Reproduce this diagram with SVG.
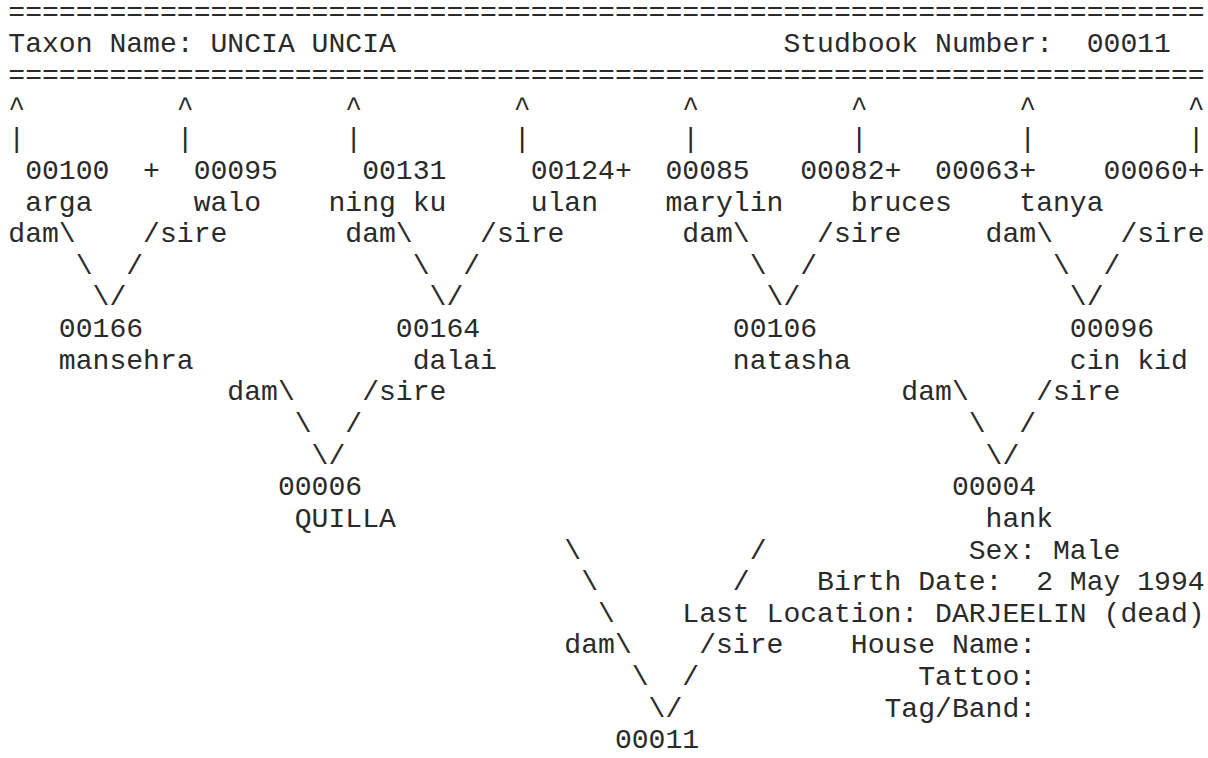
<svg xmlns="http://www.w3.org/2000/svg" width="1208" height="758" viewBox="0 0 1208 758" xml:space="preserve">
<style>
text { font-family: "Liberation Mono", "Courier New", monospace; font-size: 28.08px; fill: #2a2a2a; white-space: pre; }
</style>
<rect width="1208" height="758" fill="#fff"/>
<g id="header">
<text x="8.3" y="20.8">=======================================================================</text>
<text x="8.3" y="52.43">Taxon Name: UNCIA UNCIA</text>
<text x="783.4" y="52.43">Studbook Number:  00011</text>
<text x="8.3" y="84.06">=======================================================================</text>
</g>
<g id="connectors">
<text x="8.3" y="115.69">^         ^         ^         ^         ^         ^         ^         ^</text>
<text x="8.3" y="147.32">|         |         |         |         |         |         |         |</text>
<text x="8.3" y="242.21">dam\</text>
<text x="143.1" y="242.21">/sire</text>
<text x="345.3" y="242.21">dam\</text>
<text x="480.1" y="242.21">/sire</text>
<text x="682.3" y="242.21">dam\</text>
<text x="817.1" y="242.21">/sire</text>
<text x="985.6" y="242.21">dam\</text>
<text x="1120.4" y="242.21">/sire</text>
<text x="75.7" y="273.84">\  /</text>
<text x="412.7" y="273.84">\  /</text>
<text x="749.7" y="273.84">\  /</text>
<text x="1053" y="273.84">\  /</text>
<text x="92.55" y="305.47">\/</text>
<text x="429.55" y="305.47">\/</text>
<text x="766.55" y="305.47">\/</text>
<text x="1069.85" y="305.47">\/</text>
<text x="227.35" y="400.36">dam\</text>
<text x="362.15" y="400.36">/sire</text>
<text x="901.35" y="400.36">dam\</text>
<text x="1036.15" y="400.36">/sire</text>
<text x="294.75" y="431.99">\  /</text>
<text x="968.75" y="431.99">\  /</text>
<text x="311.6" y="463.62">\/</text>
<text x="985.6" y="463.62">\/</text>
<text x="564.35" y="558.51">\          /</text>
<text x="581.2" y="590.14">\        /</text>
<text x="598.05" y="621.77">\</text>
<text x="564.35" y="653.4">dam\</text>
<text x="699.15" y="653.4">/sire</text>
<text x="631.75" y="685.03">\  /</text>
<text x="648.6" y="716.66">\/</text>
</g>
<g id="node-00100">
<text x="25.15" y="178.95">00100</text>
<text x="143.1" y="178.95">+</text>
<text x="25.15" y="210.58">arga</text>
</g>
<g id="node-00095">
<text x="193.65" y="178.95">00095</text>
<text x="193.65" y="210.58">walo</text>
</g>
<g id="node-00131">
<text x="362.15" y="178.95">00131</text>
<text x="328.45" y="210.58">ning ku</text>
</g>
<g id="node-00124">
<text x="530.65" y="178.95">00124+</text>
<text x="530.65" y="210.58">ulan</text>
</g>
<g id="node-00085">
<text x="665.45" y="178.95">00085</text>
<text x="665.45" y="210.58">marylin</text>
</g>
<g id="node-00082">
<text x="800.25" y="178.95">00082+</text>
<text x="850.8" y="210.58">bruces</text>
</g>
<g id="node-00063">
<text x="935.05" y="178.95">00063+</text>
<text x="1019.3" y="210.58">tanya</text>
</g>
<g id="node-00060">
<text x="1103.55" y="178.95">00060+</text>
</g>
<g id="node-00166">
<text x="58.85" y="337.1">00166</text>
<text x="58.85" y="368.73">mansehra</text>
</g>
<g id="node-00164">
<text x="395.85" y="337.1">00164</text>
<text x="412.7" y="368.73">dalai</text>
</g>
<g id="node-00106">
<text x="732.85" y="337.1">00106</text>
<text x="732.85" y="368.73">natasha</text>
</g>
<g id="node-00096">
<text x="1069.85" y="337.1">00096</text>
<text x="1069.85" y="368.73">cin kid</text>
</g>
<g id="node-00006">
<text x="277.9" y="495.25">00006</text>
<text x="294.75" y="526.88">QUILLA</text>
</g>
<g id="node-00004">
<text x="951.9" y="495.25">00004</text>
<text x="985.6" y="526.88">hank</text>
</g>
<g id="details">
<text x="968.75" y="558.51">Sex: Male</text>
<text x="817.1" y="590.14">Birth Date:  2 May 1994</text>
<text x="682.3" y="621.77">Last Location: DARJEELIN (dead)</text>
<text x="850.8" y="653.4">House Name:</text>
<text x="918.2" y="685.03">Tattoo:</text>
<text x="884.5" y="716.66">Tag/Band:</text>
</g>
<g id="node-00011">
<text x="614.9" y="748.29">00011</text>
</g>
</svg>
